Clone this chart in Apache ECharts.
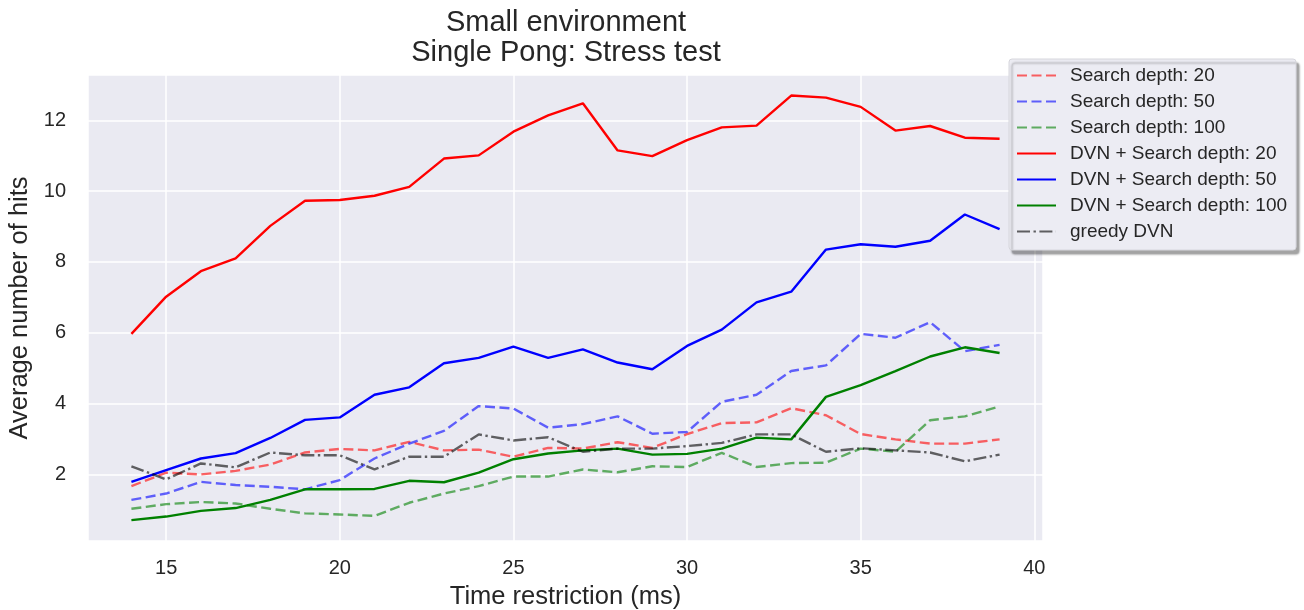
<!DOCTYPE html>
<html>
<head>
<meta charset="utf-8">
<script src="https://cdn.jsdelivr.net/npm/echarts@6/dist/echarts.min.js"></script>
<style>
  html, body { margin: 0; padding: 0; background: #ffffff; }
  #chart { width: 1304px; height: 610px; }
</style>
</head>
<body>
<div id="chart"></div>
<script>
// Time restriction per step (ms)
const timeMs = [14, 15, 16, 17, 18, 19, 20, 21, 22, 23, 24, 25, 26, 27, 28, 29, 30, 31, 32, 33, 34, 35, 36, 37, 38, 39];

// Average number of hits for each method
const search20 = [1.67, 2.05, 2.00, 2.10, 2.28, 2.62, 2.72, 2.68, 2.92, 2.68, 2.70, 2.50, 2.75, 2.73, 2.91, 2.75, 3.14, 3.45, 3.47, 3.87, 3.67, 3.14, 2.99, 2.87, 2.87, 2.99];
const search50 = [1.28, 1.46, 1.79, 1.70, 1.65, 1.58, 1.84, 2.45, 2.87, 3.23, 3.93, 3.86, 3.32, 3.42, 3.64, 3.15, 3.20, 4.05, 4.25, 4.92, 5.08, 5.97, 5.86, 6.30, 5.48, 5.66];
const search100 = [1.03, 1.16, 1.22, 1.18, 1.03, 0.90, 0.87, 0.83, 1.20, 1.46, 1.67, 1.94, 1.94, 2.14, 2.06, 2.23, 2.21, 2.61, 2.21, 2.32, 2.33, 2.73, 2.64, 3.53, 3.64, 3.92];
const dvnSearch20 = [5.97, 7.02, 7.74, 8.10, 9.02, 9.73, 9.75, 9.87, 10.12, 10.92, 11.01, 11.68, 12.14, 12.48, 11.15, 10.99, 11.44, 11.80, 11.85, 12.70, 12.64, 12.38, 11.71, 11.84, 11.51, 11.48];
const dvnSearch50 = [1.79, 2.12, 2.45, 2.60, 3.03, 3.54, 3.61, 4.25, 4.46, 5.14, 5.29, 5.61, 5.29, 5.53, 5.16, 4.97, 5.63, 6.09, 6.86, 7.16, 8.35, 8.50, 8.43, 8.60, 9.34, 8.93];
const dvnSearch100 = [0.71, 0.81, 0.97, 1.05, 1.28, 1.58, 1.58, 1.59, 1.82, 1.78, 2.05, 2.43, 2.59, 2.68, 2.73, 2.56, 2.58, 2.73, 3.04, 2.99, 4.19, 4.52, 4.92, 5.33, 5.59, 5.43];
const greedyDvn = [2.23, 1.86, 2.31, 2.20, 2.62, 2.54, 2.54, 2.14, 2.50, 2.50, 3.13, 2.96, 3.05, 2.64, 2.73, 2.73, 2.80, 2.89, 3.13, 3.13, 2.64, 2.74, 2.68, 2.62, 2.37, 2.56];

const seriesNames = [
  'Search depth: 20', 'Search depth: 50', 'Search depth: 100',
  'DVN + Search depth: 20', 'DVN + Search depth: 50', 'DVN + Search depth: 100',
  'greedy DVN'
];

const FONT = '"Liberation Sans", Arial, sans-serif';
const TEXT = '#262626';

function pairs(values) {
  return timeMs.map((t, i) => [t, values[i]]);
}

function lineSeries(name, values, color, type) {
  return {
    name: name,
    type: 'line',
    data: pairs(values),
    symbol: 'none',
    showSymbol: false,
    lineStyle: { color: color, width: 2.4, type: type },
    itemStyle: { color: color },
    emphasis: { disabled: true },
    z: 3
  };
}

const chart = echarts.init(document.getElementById('chart'), null, { renderer: 'canvas' });

chart.setOption({
  animation: false,
  backgroundColor: '#ffffff',
  textStyle: { fontFamily: FONT },
  graphic: [
    {
      type: 'text', x: 566, y: 23,
      style: { text: 'Small environment', font: '29px ' + FONT, fill: TEXT, textAlign: 'center', textVerticalAlign: 'middle' }
    },
    {
      type: 'text', x: 566, y: 53,
      style: { text: 'Single Pong: Stress test', font: '29px ' + FONT, fill: TEXT, textAlign: 'center', textVerticalAlign: 'middle' }
    }
  ],
  grid: {
    left: 88, right: 261, top: 75, bottom: 69,
    outerBoundsMode: 'none', containLabel: false,
    show: true, backgroundColor: '#eaeaf2', borderWidth: 0
  },
  xAxis: {
    type: 'value',
    min: 12.75, max: 40.25,
    splitNumber: 5, minInterval: 5, maxInterval: 5,
    name: 'Time restriction (ms)',
    nameLocation: 'middle',
    nameGap: 43,
    nameTextStyle: { fontSize: 25.5, color: TEXT, fontFamily: FONT },
    axisLine: { show: false },
    axisTick: { show: false },
    axisLabel: {
      fontSize: 20, color: TEXT, fontFamily: FONT, margin: 17,
      formatter: v => (Math.abs(v % 5) < 1e-9 ? String(v) : '')
    },
    splitLine: { show: true, lineStyle: { color: '#ffffff', width: 1.5 } }
  },
  yAxis: {
    type: 'value',
    min: 0.12, max: 13.28,
    splitNumber: 6, minInterval: 2, maxInterval: 2,
    name: 'Average number of hits',
    nameLocation: 'middle',
    nameGap: 53,
    nameTextStyle: { fontSize: 25.5, color: TEXT, fontFamily: FONT },
    axisLine: { show: false },
    axisTick: { show: false },
    axisLabel: {
      fontSize: 20, color: TEXT, fontFamily: FONT, margin: 22,
      formatter: v => (Math.abs(v % 2) < 1e-9 ? String(v) : '')
    },
    splitLine: { show: true, lineStyle: { color: '#ffffff', width: 1.5 } }
  },
  legend: {
    data: seriesNames,
    orient: 'vertical',
    left: 1009,
    top: 59,
    padding: [7, 9, 9, 7],
    itemGap: 7,
    itemWidth: 39,
    itemHeight: 14,
    itemStyle: { opacity: 0 },
    backgroundColor: '#ececf3',
    borderColor: '#d6d6dc',
    borderWidth: 1,
    borderRadius: 3,
    shadowColor: 'rgba(0,0,0,0.35)',
    shadowBlur: 2,
    shadowOffsetX: 3,
    shadowOffsetY: 4,
    textStyle: { fontSize: 19, color: TEXT, fontFamily: FONT, padding: [0, 0, 0, 9] },
    selectedMode: false
  },
  series: [
    lineSeries(seriesNames[0], search20, 'rgba(255,0,0,0.6)', [10, 4.5]),
    lineSeries(seriesNames[1], search50, 'rgba(0,0,255,0.6)', [10, 4.5]),
    lineSeries(seriesNames[2], search100, 'rgba(0,128,0,0.6)', [10, 4.5]),
    lineSeries(seriesNames[3], dvnSearch20, '#ff0000', 'solid'),
    lineSeries(seriesNames[4], dvnSearch50, '#0000ff', 'solid'),
    lineSeries(seriesNames[5], dvnSearch100, '#008000', 'solid'),
    lineSeries(seriesNames[6], greedyDvn, 'rgba(0,0,0,0.6)', [13, 3.5, 2.4, 3.5])
  ]
});
</script>
</body>
</html>
